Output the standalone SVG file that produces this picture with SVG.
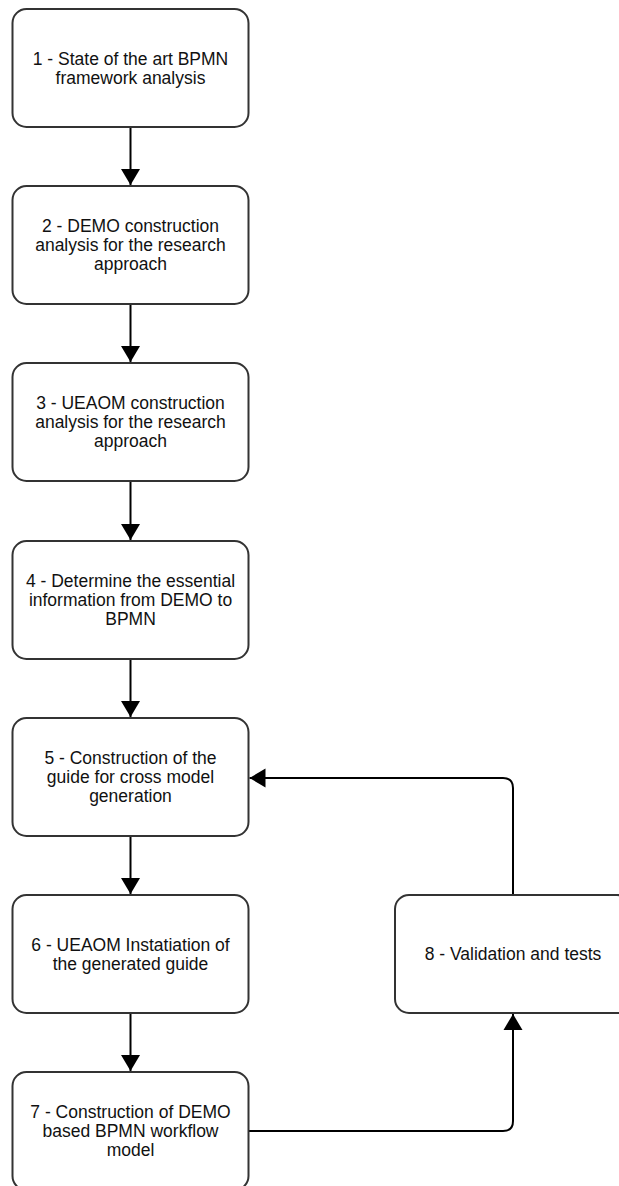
<svg xmlns="http://www.w3.org/2000/svg" width="619" height="1186" viewBox="0 0 619 1186">
  <style>
    .box { fill: #ffffff; stroke: #333333; stroke-width: 2; }
    .lbl { font-family: "Liberation Sans", Arial, sans-serif; font-size: 17.5px; fill: #111111; text-anchor: middle; }
    .edge { fill: none; stroke: #000000; stroke-width: 2; }
  </style>
  <defs>
    <marker id="arrow" markerUnits="userSpaceOnUse" markerWidth="20" markerHeight="20" viewBox="0 0 20 20" refX="17" refY="10" orient="auto">
      <path d="M1,0.5 L17,10 L1,19.5 Z" fill="#000000"/>
    </marker>
  </defs>
  <rect width="619" height="1186" fill="#ffffff"/>

  <g id="connectors">
    <path class="edge" d="M130.5,127 L130.5,185" marker-end="url(#arrow)"/>
    <path class="edge" d="M130.5,304 L130.5,362" marker-end="url(#arrow)"/>
    <path class="edge" d="M130.5,481 L130.5,540" marker-end="url(#arrow)"/>
    <path class="edge" d="M130.5,659 L130.5,717" marker-end="url(#arrow)"/>
    <path class="edge" d="M130.5,836 L130.5,894" marker-end="url(#arrow)"/>
    <path class="edge" d="M130.5,1013 L130.5,1071" marker-end="url(#arrow)"/>
    <path class="edge" d="M248.5,1131 L503,1131 Q513,1131 513,1121 L513,1014" marker-end="url(#arrow)"/>
    <path class="edge" d="M513,895 L513,788 Q513,778 503,778 L249.5,778" marker-end="url(#arrow)"/>
  </g>

  <g id="node1">
    <rect class="box" x="12.5" y="9" width="236" height="118" rx="14"/>
    <text class="lbl" x="130.5" y="65">1 - State of the art BPMN</text>
    <text class="lbl" x="130.5" y="84">framework analysis</text>
  </g>
  <g id="node2">
    <rect class="box" x="12.5" y="186" width="236" height="118" rx="14"/>
    <text class="lbl" x="130.5" y="232">2 - DEMO construction</text>
    <text class="lbl" x="130.5" y="251">analysis for the research</text>
    <text class="lbl" x="130.5" y="270">approach</text>
  </g>
  <g id="node3">
    <rect class="box" x="12.5" y="363" width="236" height="118" rx="14"/>
    <text class="lbl" x="130.5" y="409">3 - UEAOM construction</text>
    <text class="lbl" x="130.5" y="428">analysis for the research</text>
    <text class="lbl" x="130.5" y="447">approach</text>
  </g>
  <g id="node4">
    <rect class="box" x="12.5" y="541" width="236" height="118" rx="14"/>
    <text class="lbl" x="130.5" y="587">4 - Determine the essential</text>
    <text class="lbl" x="130.5" y="606">information from DEMO to</text>
    <text class="lbl" x="130.5" y="625">BPMN</text>
  </g>
  <g id="node5">
    <rect class="box" x="12.5" y="718" width="236" height="118" rx="14"/>
    <text class="lbl" x="130.5" y="764">5 - Construction of the</text>
    <text class="lbl" x="130.5" y="783">guide for cross model</text>
    <text class="lbl" x="130.5" y="802">generation</text>
  </g>
  <g id="node6">
    <rect class="box" x="12.5" y="895" width="236" height="118" rx="14"/>
    <text class="lbl" x="130.5" y="951">6 - UEAOM Instatiation of</text>
    <text class="lbl" x="130.5" y="970">the generated guide</text>
  </g>
  <g id="node7">
    <rect class="box" x="12.5" y="1072" width="236" height="118" rx="14"/>
    <text class="lbl" x="130.5" y="1118">7 - Construction of DEMO</text>
    <text class="lbl" x="130.5" y="1137">based BPMN workflow</text>
    <text class="lbl" x="130.5" y="1156">model</text>
  </g>
  <g id="node8">
    <rect class="box" x="395" y="895" width="236" height="118" rx="14"/>
    <text class="lbl" x="513" y="960">8 - Validation and tests</text>
  </g>
</svg>
